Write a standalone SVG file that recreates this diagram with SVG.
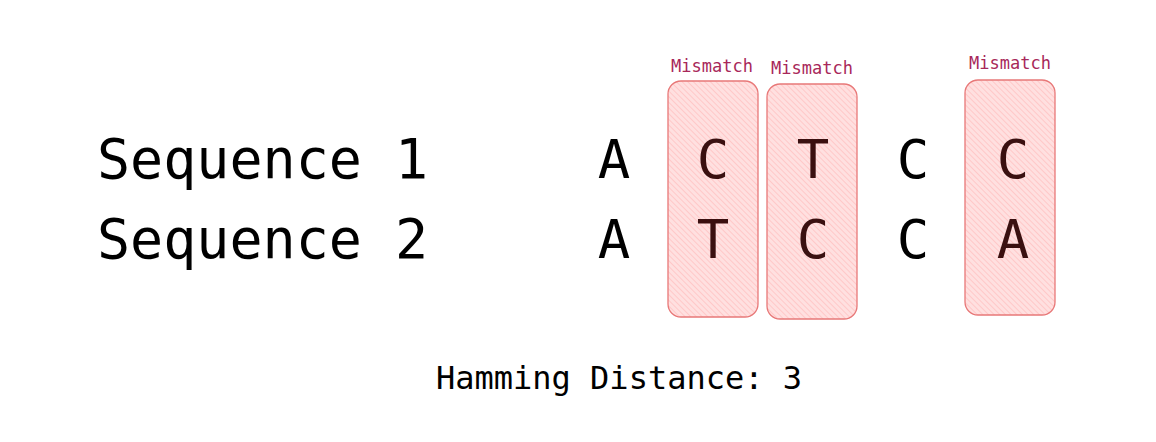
<svg xmlns="http://www.w3.org/2000/svg" width="1156" height="442" viewBox="0 0 1156 442">
<style>
.big{font-family:"DejaVu Sans Mono","Liberation Mono",monospace;font-size:54px;fill:#000;text-anchor:middle}
.lab{font-family:"DejaVu Sans Mono","Liberation Mono",monospace;font-size:55px;fill:#000}
.in{fill:#3a1010}
.mm{font-family:"DejaVu Sans Mono","Liberation Mono",monospace;font-size:17px;fill:#a8285a;text-anchor:middle}
.box{fill:url(#hatch);stroke:#e87878;stroke-width:1.3}
.hd{font-family:"DejaVu Sans Mono","Liberation Mono",monospace;font-size:32px;fill:#000;text-anchor:middle}
</style>
<defs>
<pattern id="hatch" width="4" height="4" patternUnits="userSpaceOnUse" patternTransform="rotate(-45)">
<rect width="4" height="4" fill="#ffe0e0"/>
<line x1="0" y1="0" x2="0" y2="4" stroke="#ffb8b8" stroke-width="1.2"/>
</pattern>
</defs>
<g id="labels">
<text class="lab" x="97" y="178">Sequence 1</text>
<text class="lab" x="97" y="258">Sequence 2</text>
</g>
<g id="box1"><rect class="box" x="668" y="81" width="90" height="236" rx="13"/><text class="mm" x="712" y="72">Mismatch</text></g>
<g id="box2"><rect class="box" x="767" y="84" width="90" height="235" rx="13"/><text class="mm" x="812" y="74">Mismatch</text></g>
<g id="box3"><rect class="box" x="965" y="80" width="90" height="235" rx="13"/><text class="mm" x="1010" y="69">Mismatch</text></g>
<g id="seq1">
<text class="big" x="614" y="178">A</text>
<text class="big in" x="713" y="178">C</text>
<text class="big in" x="813" y="178">T</text>
<text class="big" x="913" y="178">C</text>
<text class="big in" x="1013" y="178">C</text>
</g>
<g id="seq2">
<text class="big" x="614" y="258">A</text>
<text class="big in" x="713" y="258">T</text>
<text class="big in" x="813" y="258">C</text>
<text class="big" x="913" y="258">C</text>
<text class="big in" x="1013" y="258">A</text>
</g>
<g id="result"><text class="hd" x="619" y="389">Hamming Distance: 3</text></g>
<g id="connectors"/>
</svg>
